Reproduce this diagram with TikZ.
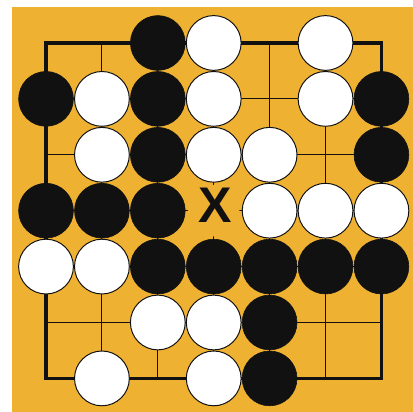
\documentclass[tikz,border=0pt]{standalone}
\usepackage{fontspec}
\setsansfont{Liberation Sans}
\usepackage{tikz}

\definecolor{board}{HTML}{EFB131}
\definecolor{ink}{HTML}{111111}

\tikzset{
    gridline/.style={ink, line width=0.5pt},
    edgeline/.style={ink, line width=1.8pt},
    blackstone/.style={circle, fill=ink, draw=ink, line width=0.3pt, minimum size=0.98cm, inner sep=0pt},
    whitestone/.style={circle, fill=white, draw=ink, line width=0.5pt, minimum size=0.98cm, inner sep=0pt}
}

\begin{document}
\begin{tikzpicture}
                \useasboundingbox (-0.823,-0.601) rectangle (6.565,6.769);
                \fill[board] (-0.608,-0.601) rectangle (6.565,6.644);
                % board lines
                \foreach \i in {1,...,5} {
                    \draw[gridline] (\i,0) -- (\i,6);
                    \draw[gridline] (0,\i) -- (6,\i);
                }
                \draw[edgeline] (0,0) rectangle (6,6);
                % stones
                \foreach \x/\y in {2/6,0/5,2/5,6/5,2/4,6/4,0/3,1/3,2/3,2/2,3/2,4/2,5/2,6/2,4/1,4/0}
                    \node[blackstone] (b-\x-\y) at (\x,\y) {};
                \foreach \x/\y in {3/6,5/6,1/5,3/5,5/5,1/4,3/4,4/4,4/3,5/3,6/3,0/2,1/2,2/1,3/1,1/0,3/0}
                    \node[whitestone] (w-\x-\y) at (\x,\y) {};
                % marked point
                \node[circle, fill=board, minimum size=0.92cm, inner sep=0pt] (gap) at (3,3) {};
                \node[ink, font=\sffamily\bfseries\fontsize{25.5}{30}\selectfont, inner sep=0pt] (mark) at ([shift={(0.03,0.1)}]gap) {X};
            \end{tikzpicture}
\end{document}
